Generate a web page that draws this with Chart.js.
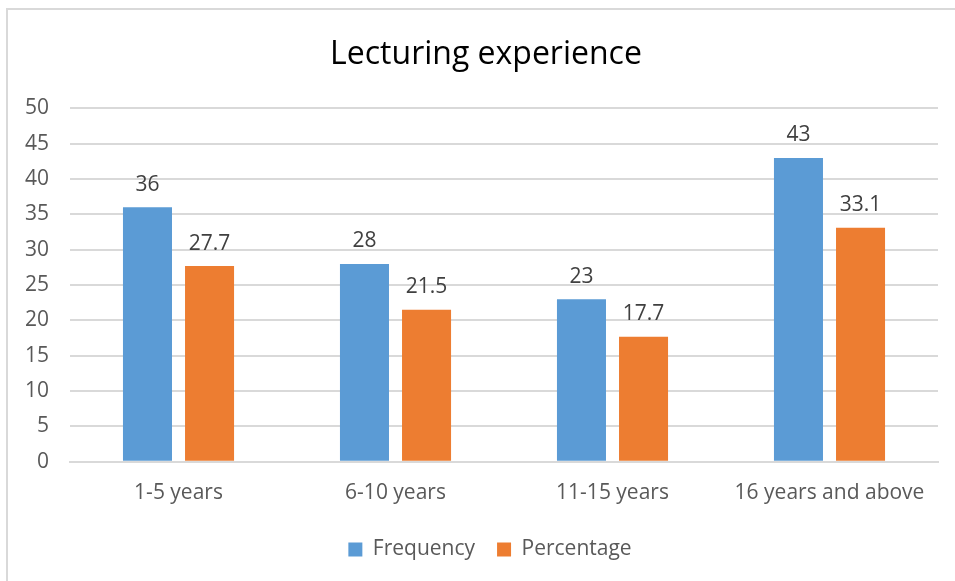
<!DOCTYPE html>
<html>
<head>
<meta charset="utf-8">
<script src="https://cdn.jsdelivr.net/npm/chart.js@4"></script>
<style>
  body { margin: 0; background: #fff; }
  #wrap { position: relative; width: 955px; height: 581px; overflow: hidden; }
  #frame { position: absolute; left: 6px; top: 8px; width: 1000px; height: 700px; border: 2px solid #d9d9d9; }
  canvas { position: absolute; left: 0; top: 0; }
</style>
</head>
<body>
<div id="wrap">
  <div id="frame"></div>
  <canvas id="myChart" width="955" height="581"></canvas>
</div>
<script>
const categories = ['1-5 years', '6-10 years', '11-15 years', '16 years and above'];
const frequency = [36, 28, 23, 43];
const percentage = [27.7, 21.5, 17.7, 33.1];

const fontFamily = '"Open Sans", Lato, sans-serif';
const textColor = '#595959';

// labels above the bars
const barLabels = {
  id: 'barLabels',
  afterDatasetsDraw(chart) {
    const c = chart.ctx;
    c.save();
    c.font = '21px ' + fontFamily;
    c.fillStyle = '#404040';
    c.textAlign = 'center';
    c.textBaseline = 'bottom';
    chart.data.datasets.forEach((ds, i) => {
      chart.getDatasetMeta(i).data.forEach((bar, j) => {
        c.fillText(String(ds.data[j]), bar.x, bar.y - 12);
      });
    });
    c.restore();
  }
};

// the original frame is wider than the picture, so title and legend sit a bit right of centre
const nudge = {
  id: 'nudge',
  afterLayout(chart) {
    chart.titleBlock.left += 15;
    chart.titleBlock.right += 15;
    chart.legend.left += 19;
    chart.legend.right += 19;
  }
};

const ctx = document.getElementById('myChart');
new Chart(ctx, {
  type: 'bar',
  data: {
    labels: categories,
    datasets: [
      { label: 'Frequency', data: frequency, backgroundColor: '#5B9BD5' },
      { label: 'Percentage', data: percentage, backgroundColor: '#ED7D31' }
    ]
  },
  options: {
    responsive: false,
    animation: false,
    categoryPercentage: 0.572,
    barPercentage: 0.79,
    layout: { padding: { top: 10, left: 4, right: 17, bottom: 11 } },
    scales: {
      x: {
        grid: { display: false },
        border: { color: '#d9d9d9', width: 2 },
        ticks: { color: textColor, font: { family: fontFamily, size: 21 }, padding: 11 }
      },
      y: {
        min: 0,
        max: 50,
        ticks: { stepSize: 5, color: textColor, font: { family: fontFamily, size: 21 }, padding: 21 },
        grid: { color: '#d9d9d9', lineWidth: 2, drawTicks: false },
        border: { display: false }
      }
    },
    plugins: {
      title: {
        display: true,
        text: 'Lecturing experience',
        color: '#000',
        font: { family: fontFamily, size: 32, weight: 'normal' },
        padding: { top: 26, bottom: 34 }
      },
      legend: {
        position: 'bottom',
        labels: {
          color: textColor,
          font: { family: fontFamily, size: 21 },
          boxWidth: 14,
          boxHeight: 14,
          padding: 22
        }
      },
      tooltip: { enabled: false }
    }
  },
  plugins: [barLabels, nudge]
});
</script>
</body>
</html>
